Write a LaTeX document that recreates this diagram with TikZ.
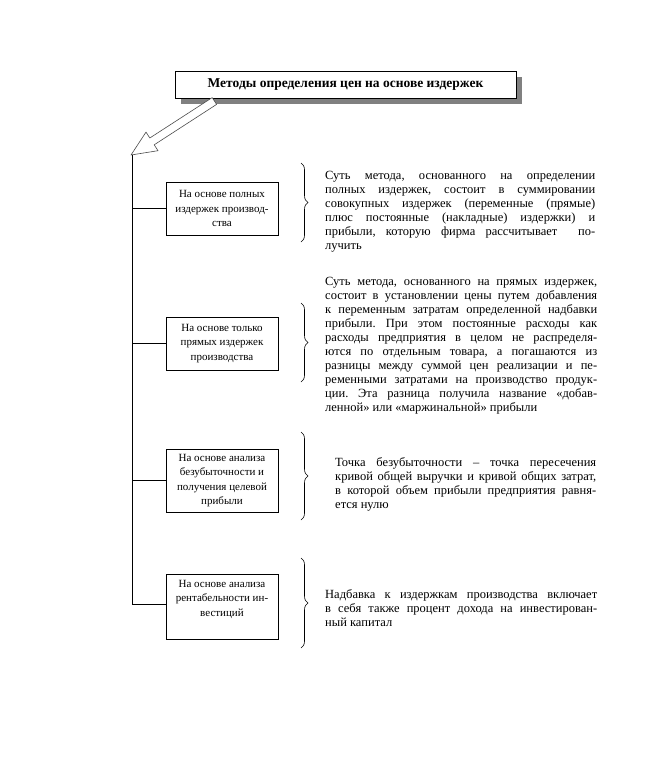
\documentclass[tikz,border=0pt]{standalone}
\usepackage{fontspec}
\setmainfont{Liberation Serif}
\usetikzlibrary{decorations.pathreplacing}
\newcommand\jl[1]{\makebox[\linewidth][s]{#1}\par}
\frenchspacing
\begin{document}
\begin{tikzpicture}[x=1pt,y=-1pt,
  boxnode/.style={draw, line width=0.8pt, minimum width=112pt, inner sep=0pt, align=center, font=\fontsize{11}{14.5}\selectfont},
  boxtext/.style={inner sep=0pt, align=center, font=\fontsize{11}{14.5}\selectfont},
  desc/.style={inner sep=0pt, anchor=base west, font=\fontsize{12.5}{14}\selectfont},
  conn/.style={line width=0.8pt},
  bracestyle/.style={decorate, decoration={brace, amplitude=7pt}, line width=0.6pt},
  bigarrow/.style={fill=white, draw=black!70, line width=0.6pt, line join=round}
]
\useasboundingbox (0,0) rectangle (646,782);
\fill[white] (0,0) rectangle (646,782);

% title with shadow
\fill[black!50] (181,77) rectangle (522,104);
\node[draw, fill=white, line width=1pt, minimum width=341pt, minimum height=27pt, inner sep=0pt,
      font=\bfseries\fontsize{13.5}{15}\selectfont] (title) at (345.5,84.5) {Методы определения цен на основе издержек};

% hollow arrow
\draw[bigarrow] (131,155) -- (158,150.7) -- (154.2,144.8) -- (216.6,104.4) -- (212.2,97.6) -- (149.8,138) -- (146,132.1) -- cycle;

% spine
\coordinate (top) at (132,155);
\coordinate (bot) at (132,604);
\draw[conn] (top) -- (bot);

% boxes
\node[boxnode, minimum height=53pt] (b1) at (222,208.5) {На основе полных\\издержек производ-\\ства};
\node[boxnode, minimum height=53pt] (b2) at (222,343.5) {На основе только\\прямых издержек\\производства};
\node[boxnode, minimum height=63pt] (b3) at (222,480.5) {На основе анализа\\безубыточности и\\получения целевой\\прибыли};
\node[boxnode, minimum height=65pt] (b4) at (222,606.5) {};
\node[boxtext] (b4t) at (222,599) {На основе анализа\\рентабельности ин-\\вестиций};

\draw[conn] (top |- b1.west) -- (b1.west);
\draw[conn] (top |- b2.west) -- (b2.west);
\draw[conn] (top |- b3.west) -- (b3.west);
\draw[conn] (bot) -- (bot -| b4.west);

% braces
\coordinate (r1a) at (301,163); \coordinate (r1b) at (301,242);
\coordinate (r2a) at (301,303); \coordinate (r2b) at (301,382);
\coordinate (r3a) at (301,432); \coordinate (r3b) at (301,520);
\coordinate (r4a) at (301,558); \coordinate (r4b) at (301,648);
\draw[bracestyle] (r1a) -- (r1b);
\draw[bracestyle] (r2a) -- (r2b);
\draw[bracestyle] (r3a) -- (r3b);
\draw[bracestyle] (r4a) -- (r4b);

% descriptions
\node[desc] (d1) at (325,179.5) {\parbox[t]{270pt}{%
\jl{Суть метода, основанного на определении}
\jl{полных издержек, состоит в суммировании}
\jl{совокупных издержек (переменные (прямые)}
\jl{плюс постоянные (накладные) издержки) и}
\jl{прибыли, которую фирма рассчитывает \ по-}
лучить}};

\node[desc] (d2) at (325,285) {\parbox[t]{272pt}{%
\jl{Суть метода, основанного на прямых издержек,}
\jl{состоит в установлении цены путем добавления}
\jl{к переменным затратам определенной надбавки}
\jl{прибыли. При этом постоянные расходы как}
\jl{расходы предприятия в целом не распределя-}
\jl{ются по отдельным товара, а погашаются из}
\jl{разницы между суммой цен реализации и пе-}
\jl{ременными затратами на производство продук-}
\jl{ции. Эта разница получила название «добав-}
ленной» или «маржинальной» прибыли}};

\node[desc] (d3) at (335,466.5) {\parbox[t]{261pt}{%
\jl{Точка безубыточности – точка пересечения}
\jl{кривой общей выручки и кривой общих затрат,}
\jl{в которой объем прибыли предприятия равня-}
ется нулю}};

\node[desc] (d4) at (325,598.5) {\parbox[t]{272pt}{%
\jl{Надбавка к издержкам производства включает}
\jl{в себя также процент дохода на инвестирован-}
ный капитал}};
\end{tikzpicture}
\end{document}
